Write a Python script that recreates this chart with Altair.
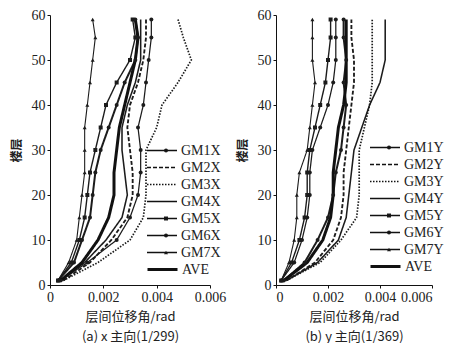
import altair as alt
import pandas as pd

floors = [1, 5, 10, 15, 20, 25, 30, 35, 40, 45, 50, 55, 59]

# ---- (a) x direction ----
names_x = ["GM1X", "GM2X", "GM3X", "GM4X", "GM5X", "GM6X", "GM7X", "AVE"]
gm1x = [0.0003, 0.0009, 0.0012, 0.0015, 0.0016, 0.0017, 0.0019, 0.0022, 0.0025, 0.0028, 0.0032, 0.0033, 0.0032]
gm2x = [0.0005, 0.0015, 0.0023, 0.0029, 0.0031, 0.0031, 0.0030, 0.0029, 0.0030, 0.0033, 0.0035, 0.0036, 0.0036]
gm3x = [0.0005, 0.0018, 0.0030, 0.0035, 0.0036, 0.0036, 0.0036, 0.0040, 0.0042, 0.0048, 0.0053, 0.0050, 0.0048]
gm4x = [0.0004, 0.0013, 0.0021, 0.0027, 0.0029, 0.0028, 0.0027, 0.0027, 0.0029, 0.0032, 0.0034, 0.0034, 0.0034]
gm5x = [0.0003, 0.0008, 0.0011, 0.0013, 0.0014, 0.0015, 0.0017, 0.0019, 0.0021, 0.0025, 0.0030, 0.0032, 0.0031]
gm6x = [0.0004, 0.0014, 0.0025, 0.0030, 0.0033, 0.0034, 0.0034, 0.0033, 0.0035, 0.0036, 0.0037, 0.0038, 0.0038]
gm7x = [0.0003, 0.0007, 0.0010, 0.0011, 0.0012, 0.0013, 0.0013, 0.0013, 0.0014, 0.0015, 0.0016, 0.0017, 0.0016]
avex = [0.0004, 0.0012, 0.0018, 0.0022, 0.0024, 0.0024, 0.0025, 0.0026, 0.0028, 0.0030, 0.0032, 0.0033, 0.0032]

# ---- (b) y direction ----
names_y = ["GM1Y", "GM2Y", "GM3Y", "GM4Y", "GM5Y", "GM6Y", "GM7Y", "AVE"]
gm1y = [0.0003, 0.0011, 0.0016, 0.0020, 0.0022, 0.0023, 0.0025, 0.0026, 0.0027, 0.0026, 0.0027, 0.0026, 0.0026]
gm2y = [0.0004, 0.0015, 0.0022, 0.0025, 0.0026, 0.0026, 0.0027, 0.0028, 0.0029, 0.0030, 0.0030, 0.0029, 0.0029]
gm3y = [0.0004, 0.0017, 0.0025, 0.0031, 0.0032, 0.0032, 0.0032, 0.0034, 0.0036, 0.0037, 0.0037, 0.0037, 0.0037]
gm4y = [0.0004, 0.0016, 0.0024, 0.0027, 0.0028, 0.0029, 0.0030, 0.0033, 0.0036, 0.0040, 0.0042, 0.0042, 0.0042]
gm5y = [0.0002, 0.0006, 0.0009, 0.0011, 0.0012, 0.0012, 0.0013, 0.0015, 0.0017, 0.0019, 0.0020, 0.0021, 0.0021]
gm6y = [0.0002, 0.0007, 0.0010, 0.0012, 0.0013, 0.0013, 0.0014, 0.0017, 0.0020, 0.0022, 0.0023, 0.0023, 0.0023]
gm7y = [0.0002, 0.0005, 0.0007, 0.0008, 0.0008, 0.0009, 0.0012, 0.0013, 0.0014, 0.0015, 0.0014, 0.0014, 0.0014]
avey = [0.0003, 0.0012, 0.0018, 0.0021, 0.0022, 0.0022, 0.0023, 0.0024, 0.0026, 0.0027, 0.0027, 0.0027, 0.0027]

captions = ["(a) x 主向(1/299)", "(b) y 主向(1/369)"]

# styles for GM1..GM7
dashes = [[1, 0], [4, 2], [1.5, 1.5], [1, 0], [1, 0], [1, 0], [1, 0]]
widths = [2.0, 1.1, 1.2, 1.0, 2.2, 1.3, 2.4]
shapes = ["circle", "M0,0", "M0,0", "M0,0", "square", "circle", "triangle-up"]
AVE_W = 3.0
ROW = 17


def make_df(names, series):
    rows = []
    for n, vals in zip(names, series):
        for f, v in zip(floors, vals):
            rows.append({"series": n, "floor": f, "drift": v})
    return pd.DataFrame(rows)


def panel(names, series, caption, w, h, lx, ly, flush):
    df = make_df(names, series)
    df["s_mark"] = df["series"] + "m"
    df["s_ave"] = df["series"]
    gm = names[:7]
    gm_m = [n + "m" for n in gm]
    x = alt.X("drift:Q",
              scale=alt.Scale(domain=[0, 0.006], nice=False, zero=True),
              axis=alt.Axis(values=[0, 0.002, 0.004, 0.006], format=".3~f", labelFlush=flush,
                            labelOverlap=False, title=["层间位移角/rad", caption]))
    y = alt.Y("floor:Q",
              scale=alt.Scale(domain=[0, 60], nice=False),
              axis=alt.Axis(values=[0, 10, 20, 30, 40, 50, 60], title="楼层"))
    common = dict(title=None, orient="none", labelFont="Liberation Serif", labelFontSize=14,
                  labelColor="#222", rowPadding=ROW - 15, clipHeight=15)
    leg_lines = alt.Legend(legendX=lx, legendY=ly, symbolType="stroke", symbolSize=900,
                           symbolStrokeColor="#111", symbolStrokeWidth=1.6, labelOffset=3, **common)
    leg_ave = alt.Legend(legendX=lx, legendY=ly + 7 * ROW, symbolType="stroke", symbolSize=900,
                         symbolStrokeColor="#111", symbolStrokeWidth=AVE_W, labelOffset=3, **common)
    leg_pts = alt.Legend(legendX=lx + 13, legendY=ly, symbolSize=16, symbolFillColor="#111",
                         symbolStrokeColor="#111", symbolStrokeWidth=0, labelExpr="''",
                         labelOffset=0, **common)

    gm_lines = alt.Chart(df).transform_filter(
        alt.FieldOneOfPredicate(field="series", oneOf=gm)
    ).mark_line(color="#1c1c1c").encode(
        x=x, y=y, order="floor:Q",
        strokeDash=alt.StrokeDash("series:N", scale=alt.Scale(domain=gm, range=dashes), legend=leg_lines),
        strokeWidth=alt.StrokeWidth("series:N", scale=alt.Scale(domain=gm, range=widths), legend=None),
    )
    ave_line = alt.Chart(df).transform_filter(
        alt.FieldEqualPredicate(field="series", equal="AVE")
    ).mark_line(color="#111", strokeWidth=AVE_W).encode(
        x=x, y=y, order="floor:Q",
        strokeDash=alt.StrokeDash("s_ave:N", scale=alt.Scale(domain=["AVE"], range=[[1, 0]]), legend=leg_ave),
    )
    mk = [gm[i] for i in (0, 4, 5, 6)]
    pts = alt.Chart(df).transform_filter(
        alt.FieldOneOfPredicate(field="series", oneOf=mk)
    ).mark_point(filled=True, color="#1c1c1c", size=16, opacity=1).encode(
        x=x, y=y,
        shape=alt.Shape("s_mark:N", scale=alt.Scale(domain=gm_m, range=shapes), legend=leg_pts),
    )
    return alt.layer(gm_lines, ave_line, pts).resolve_scale(
        strokeDash="independent"
    ).resolve_legend(strokeDash="independent").properties(width=w, height=h)


left = panel(names_x, [gm1x, gm2x, gm3x, gm4x, gm5x, gm6x, gm7x, avex], captions[0], 160, 270, 96, 128, False)
right = panel(names_y, [gm1y, gm2y, gm3y, gm4y, gm5y, gm6y, gm7y, avey], captions[1], 156, 270, 93, 125, True)

chart = alt.hconcat(left, right, spacing=10).resolve_scale(
    strokeDash="independent", strokeWidth="independent", shape="independent"
).resolve_legend(
    strokeDash="independent", strokeWidth="independent", shape="independent"
).configure_view(stroke=None).configure_axis(
    grid=False, domainColor="#111", tickColor="#111", tickSize=3,
    labelFont="Liberation Serif", labelFontSize=14, labelColor="#222",
    titleFont="Noto Sans CJK SC", titleFontSize=13, titleFontWeight="normal",
    titleColor="#222", labelPadding=2,
).configure_axisX(titleLineHeight=20, titlePadding=6).configure_axisY(
    titleFontWeight="bold", titleFontSize=12, titlePadding=8
).properties(background="white", padding={"left": 2, "top": 0, "right": 0, "bottom": 0})

chart.save("out.html", embed_options={"renderer": "svg", "actions": False})
